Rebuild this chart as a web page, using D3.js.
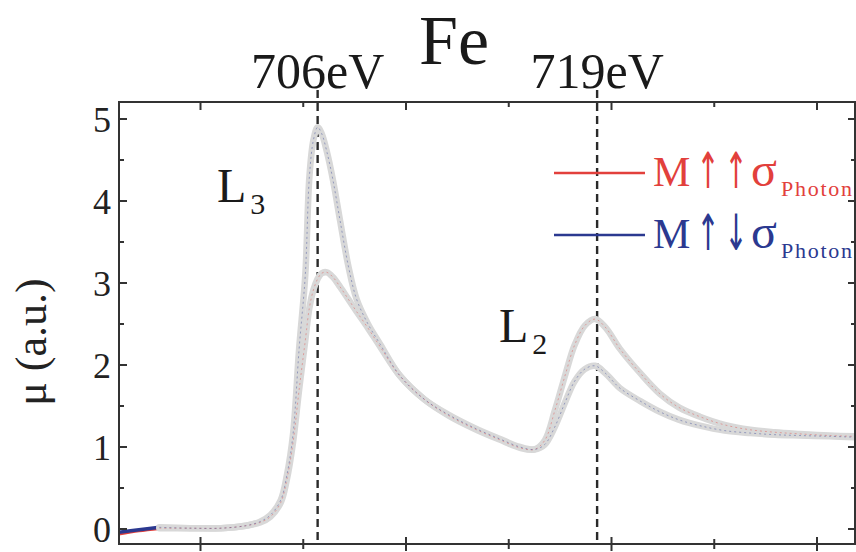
<!DOCTYPE html>
<html><head><meta charset="utf-8">
<script src="https://cdn.jsdelivr.net/npm/d3@7"></script>
<style>body{margin:0;background:#fff}svg{display:block}text{font-family:"Liberation Serif","Times New Roman",serif}</style>
</head><body><svg id="c" width="856" height="552"></svg>
<script>
const energy = [696.0, 697.0, 698.0, 699.5, 701.0, 702.2, 702.9, 703.4, 703.9, 704.2, 704.5, 704.8, 705.1, 705.3, 705.5, 705.7, 705.9, 706.15, 706.45, 706.8, 707.2, 707.6, 708.15, 708.75, 709.7, 710.9, 712.1, 713.35, 714.55, 715.55, 716.25, 716.75, 717.25, 717.75, 718.2, 718.7, 719.2, 719.7, 720.4, 721.4, 722.35, 723.3, 724.3, 725.5, 726.75, 727.95, 729.15, 730.6, 731.85];
const muAntiparallel = [-0.04, -0.01, 0.02, 0.01, 0.01, 0.04, 0.09, 0.17, 0.35, 0.65, 1.15, 2.2, 3.1, 4.3, 4.75, 4.9, 4.82, 4.6, 4.25, 3.75, 3.2, 2.8, 2.5, 2.25, 1.87, 1.58, 1.39, 1.23, 1.1, 1.0, 0.97, 1.03, 1.25, 1.55, 1.8, 1.95, 1.99, 1.9, 1.72, 1.56, 1.43, 1.33, 1.26, 1.2, 1.17, 1.15, 1.14, 1.13, 1.12];
const muParallel = [-0.06, -0.02, 0.01, 0.01, 0.01, 0.04, 0.08, 0.15, 0.32, 0.6, 1.05, 1.7, 2.3, 2.7, 2.92, 3.05, 3.12, 3.13, 3.07, 2.95, 2.8, 2.65, 2.45, 2.22, 1.87, 1.58, 1.38, 1.22, 1.09, 0.99, 0.97, 1.08, 1.45, 1.88, 2.24, 2.48, 2.56, 2.46, 2.2, 1.9, 1.65, 1.48, 1.37, 1.27, 1.21, 1.18, 1.16, 1.14, 1.13];
const edgeEnergies = [705.7, 719.3];
const edgeLabels = ["706eV", "719eV"];
const yTicks = [0, 1, 2, 3, 4, 5];
const yMinorTicks = [0.5, 1.5, 2.5, 3.5, 4.5];
const xTicks = [700, 710, 720, 730];
const xMinorTicks = [705, 715, 725];
const legendArrows = [["\u2191", "\u2191"], ["\u2191", "\u2193"]];

const svg = d3.select("#c");
const L = 119, R = 855, T = 102, B = 544;
const x = d3.scaleLinear().domain([700, 730]).range([200.5, 817]);
const y = d3.scaleLinear().domain([0, 5]).range([529, 119]);
const red = "#e2403c", blue = "#2b3990";

svg.append("defs").append("clipPath").attr("id","clip").append("rect")
  .attr("x", L).attr("y", T).attr("width", R - L).attr("height", B - T);

svg.selectAll(".edge").data(edgeEnergies).join("line")
  .attr("x1", d => x(d)).attr("x2", d => x(d)).attr("y1", 90).attr("y2", B)
  .attr("stroke", "#2a2a2a").attr("stroke-width", 2.4).attr("stroke-dasharray", "8,5");

const line = d3.line().x(d => x(d[0])).y(d => y(d[1])).curve(d3.curveCatmullRom.alpha(0.5));
const series = [muParallel, muAntiparallel];
const cols = [red, blue];
const g = svg.append("g").attr("clip-path", "url(#clip)");
const split = 3;
series.forEach((s, i) => {
  const pts = energy.slice(0, split).map((e, k) => [e, s[k]]);
  g.append("path").attr("d", line(pts)).attr("fill", "none").attr("stroke", cols[i]).attr("stroke-width", 3.5);
});
series.forEach((s, i) => {
  const pts = energy.slice(split - 1).map((e, k) => [e, s[k + split - 1]]);
  g.append("path").attr("d", line(pts)).attr("fill", "none").attr("stroke", "#d8d8d8").attr("stroke-width", 6.5).attr("stroke-linecap","round");
});
series.forEach((s, i) => {
  const pts = energy.slice(split - 1).map((e, k) => [e, s[k + split - 1]]);
  g.append("path").attr("d", line(pts)).attr("fill", "none").attr("stroke", cols[i]).attr("stroke-opacity", 0.4)
    .attr("stroke-width", 1).attr("stroke-dasharray", "2,3");
});

svg.append("rect").attr("x", L).attr("y", T).attr("width", R - L).attr("height", B - T)
  .attr("fill", "none").attr("stroke", "#333").attr("stroke-width", 2);

const tk = svg.append("g").attr("stroke", "#333").attr("stroke-width", 2);
xTicks.forEach(v => {
  tk.append("line").attr("x1", x(v)).attr("x2", x(v)).attr("y1", B - 7).attr("y2", B + 7);
  tk.append("line").attr("x1", x(v)).attr("x2", x(v)).attr("y1", T).attr("y2", T + 8);
});
xMinorTicks.forEach(v => {
  tk.append("line").attr("x1", x(v)).attr("x2", x(v)).attr("y1", B - 5).attr("y2", B + 5);
  tk.append("line").attr("x1", x(v)).attr("x2", x(v)).attr("y1", T).attr("y2", T + 5);
});
yTicks.forEach(v => {
  tk.append("line").attr("x1", L).attr("x2", L + 8).attr("y1", y(v)).attr("y2", y(v));
  tk.append("line").attr("x1", R - 7).attr("x2", R).attr("y1", y(v)).attr("y2", y(v));
});
yMinorTicks.forEach(v => {
  tk.append("line").attr("x1", L).attr("x2", L + 5).attr("y1", y(v)).attr("y2", y(v));
  tk.append("line").attr("x1", R - 4).attr("x2", R).attr("y1", y(v)).attr("y2", y(v));
});
svg.selectAll(".yl").data(yTicks).join("text")
  .attr("x", 111).attr("y", d => y(d)).attr("dy", "0.35em").attr("text-anchor", "end")
  .attr("font-size", 36).attr("fill", "#222").text(d => d);

svg.append("text").attr("transform", "translate(46,342) rotate(-90)").attr("text-anchor", "middle")
  .attr("font-size", 44).attr("fill", "#222").text("\u03bc (a.u.)");

svg.append("text").attr("x", 454).attr("y", 64).attr("text-anchor", "middle").attr("font-size", 70).attr("fill", "#1a1a1a").text("Fe");
svg.selectAll(".el").data(edgeEnergies).join("text")
  .attr("x", d => x(d)).attr("y", 88).attr("text-anchor", "middle").attr("font-size", 50).attr("fill", "#1a1a1a")
  .text((d, i) => edgeLabels[i]);

const l3 = svg.append("text").attr("x", 217).attr("y", 202).attr("font-size", 48).attr("fill", "#1a1a1a");
l3.append("tspan").text("L");
l3.append("tspan").attr("font-size", 30).attr("dx", 4).attr("dy", 12).text("3");
const l2 = svg.append("text").attr("x", 499).attr("y", 342).attr("font-size", 48).attr("fill", "#1a1a1a");
l2.append("tspan").text("L");
l2.append("tspan").attr("font-size", 30).attr("dx", 4).attr("dy", 12).text("2");

const legY = [173, 235], legBase = [186, 248];
legendArrows.forEach((arr, i) => {
  svg.append("line").attr("x1", 554).attr("x2", 645).attr("y1", legY[i]).attr("y2", legY[i])
    .attr("stroke", cols[i]).attr("stroke-width", 2.5);
  svg.append("text").attr("x", 653).attr("y", legBase[i]).attr("font-size", 42).attr("fill", cols[i]).text("M");
  arr.forEach((a, k) => {
    svg.append("text").attr("transform", `translate(${708 + k * 28},${legBase[i] + 2}) scale(0.55,1)`)
      .attr("text-anchor", "middle").style("font-family", "'DejaVu Sans'").attr("font-size", 50)
      .attr("fill", cols[i]).text(a);
  });
  svg.append("text").attr("x", 751).attr("y", legBase[i]).attr("font-size", 48).attr("fill", cols[i]).text("\u03c3");
  svg.append("text").attr("x", 781).attr("y", legBase[i] + 10).attr("font-size", 22).attr("textLength", 71)
    .attr("lengthAdjust", "spacing").attr("fill", cols[i]).text("Photon");
});
</script></body></html>
